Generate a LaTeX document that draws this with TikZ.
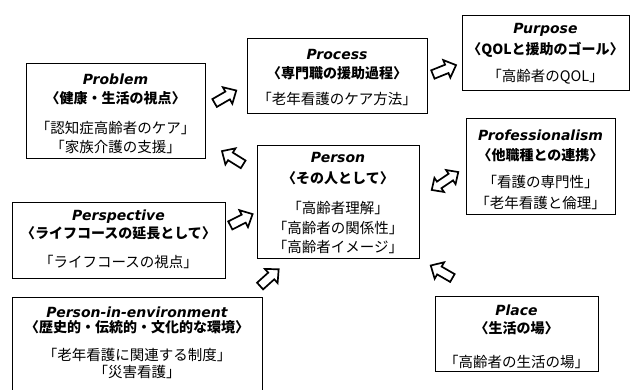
\documentclass[tikz,border=0pt]{standalone}
\usepackage{fontspec}
\newfontfamily\jp{Noto Sans CJK JP}
\newfontfamily\lat{DejaVu Sans}
\tikzset{
  box/.style={draw, line width=0.8pt, rectangle, inner sep=0pt},
  ttl/.style={font=\lat\bfseries\itshape\fontsize{14}{16}\selectfont, inner sep=0pt},
  sub/.style={font=\jp\bfseries\fontsize{14}{16}\selectfont, inner sep=0pt},
  itm/.style={font=\jp\fontsize{14.5}{16}\selectfont, inner sep=0pt},
  arr/.style={draw, fill=white, line width=1.7pt, line join=miter},
  sarrow/.pic={\draw[arr] (-12,-4.5) -- (3,-4.5) -- (3,-9.5) -- (13,0) -- (3,9.5) -- (3,4.5) -- (-12,4.5) -- cycle;},
  darrow/.pic={\draw[arr] (-16,0) -- (-7,-8.5) -- (-7,-4) -- (7,-4) -- (7,-8.5) -- (16,0) -- (7,8.5) -- (7,4) -- (-7,4) -- (-7,8.5) -- cycle;}
}
\begin{document}
\begin{tikzpicture}[x=1pt,y=1pt]
\fill[white] (0,0) rectangle (631,390);
\useasboundingbox (0,0) rectangle (631,390);
% boxes
\node[box, minimum width=167, minimum height=75] (purpose) at (545.5,337.5) {};
\node[box, minimum width=180, minimum height=75] (process) at (337,314.5) {};
\node[box, minimum width=179, minimum height=95] (problem) at (115.5,279.5) {};
\node[box, minimum width=162, minimum height=113] (person) at (338,188.5) {};
\node[box, minimum width=149, minimum height=96] (prof) at (540.5,224) {};
\node[box, minimum width=213, minimum height=76] (persp) at (118.5,150) {};
\node[box, minimum width=250, minimum height=98] (pie) at (137,44) {};
\node[box, minimum width=163, minimum height=75] (place) at (516.5,56.5) {};
% Purpose
\node[ttl] (pu1) at (545.5,360) {Purpose};
\node[sub] (pu2) at (545.5,340) {〈QOLと援助のゴール〉};
\node[itm] (pu3) at (545.5,313) {「高齢者のQOL」};
% Process
\node[ttl] (pr1) at (337,335) {Process};
\node[sub] (pr2) at (337,317) {〈専門職の援助過程〉};
\node[itm] (pr3) at (337,291) {「老年看護のケア方法」};
% Problem
\node[ttl] (pb1) at (115.5,311) {Problem};
\node[sub] (pb2) at (115.5,292) {〈健康・生活の視点〉};
\node[itm] (pb3) at (115.5,262) {「認知症高齢者のケア」};
\node[itm] (pb4) at (115.5,243) {「家族介護の支援」};
% Person
\node[ttl] (pe1) at (338,232) {Person};
\node[sub] (pe2) at (338,212) {〈その人として〉};
\node[itm] (pe3) at (338,182) {「高齢者理解」};
\node[itm] (pe4) at (338,162) {「高齢者の関係性」};
\node[itm] (pe5) at (338,143) {「高齢者イメージ」};
% Professionalism
\node[ttl] (pf1) at (540.5,255) {Professionalism};
\node[sub] (pf2) at (540.5,235) {〈他職種との連携〉};
\node[itm] (pf3) at (540.5,208) {「看護の専門性」};
\node[itm] (pf4) at (540.5,187) {「老年看護と倫理」};
% Perspective
\node[ttl] (ps1) at (118.5,173) {Perspective};
\node[sub] (ps2) at (118.5,157) {〈ライフコースの延長として〉};
\node[itm] (ps3) at (118.5,128) {「ライフコースの視点」};
% Person-in-environment
\node[ttl] (pi1) at (137,78) {Person-in-environment};
\node[sub] (pi2) at (137,63) {〈歴史的・伝統的・文化的な環境〉};
\node[itm] (pi3) at (137,35) {「老年看護に関連する制度」};
\node[itm] (pi4) at (137,18) {「災害看護」};
% Place
\node[ttl] (pl1) at (516.5,80) {Place};
\node[sub] (pl2) at (516.5,62) {〈生活の場〉};
\node[itm] (pl3) at (516.5,28) {「高齢者の生活の場」};
% block arrows
\pic[rotate=30] at (225,293) {sarrow};
\pic[rotate=22] at (444,320) {sarrow};
\pic[rotate=148] at (233,232) {sarrow};
\pic[rotate=34] at (445,209) {darrow};
\pic[rotate=27] at (241,170) {sarrow};
\pic[rotate=42] at (269,112) {sarrow};
\pic[rotate=150] at (442,118) {sarrow};
\end{tikzpicture}
\end{document}
